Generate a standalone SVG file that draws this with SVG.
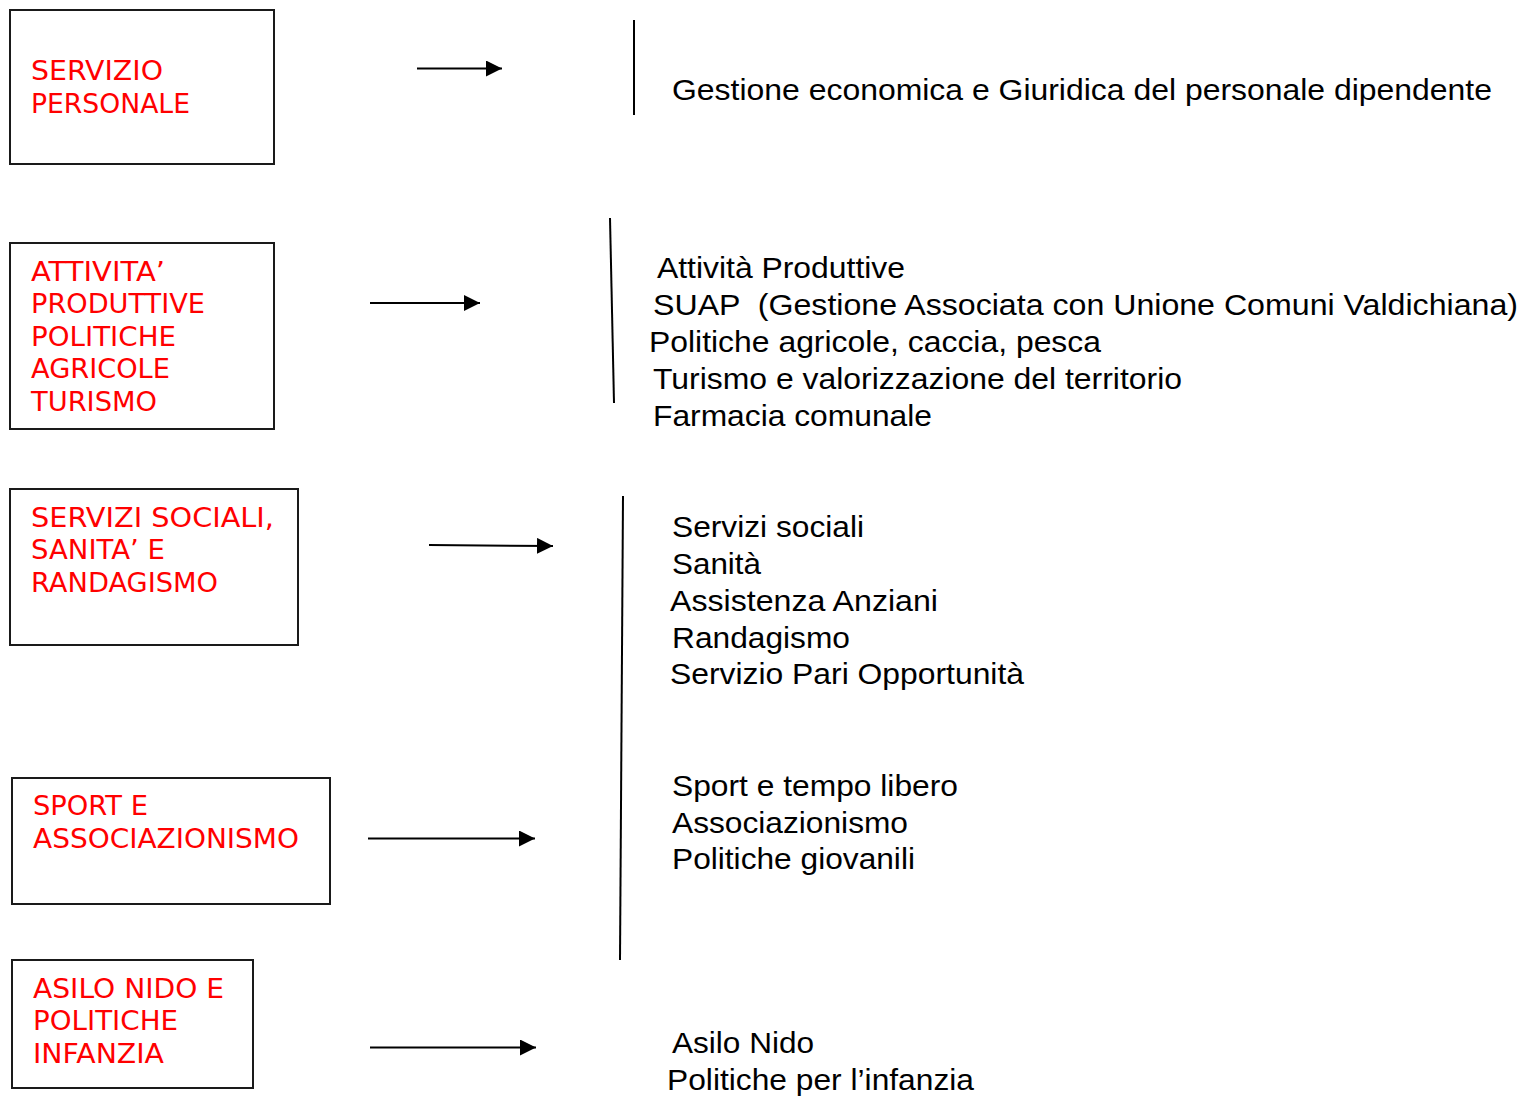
<svg xmlns="http://www.w3.org/2000/svg" width="1523" height="1098" viewBox="0 0 1523 1098">
<style>
.box{fill:#fff;stroke:#1a1a1a;stroke-width:2}
.r{font-family:"DejaVu Sans","Liberation Sans",sans-serif;font-size:27px;fill:#ff0000}
.b{font-family:"Liberation Sans",Arial,sans-serif;font-size:30px;fill:#000;white-space:pre}
.c{stroke:#000;stroke-width:2;fill:none}
</style>
<defs>
<marker id="ah" markerUnits="userSpaceOnUse" markerWidth="16" markerHeight="16" refX="16" refY="8" orient="auto">
<path d="M0,0 L16,8 L0,16 z" fill="#000"/>
</marker>
</defs>
<rect width="1523" height="1098" fill="#fff"/>
<g id="n-personale">
<rect class="box" x="10" y="10" width="264" height="154"/>
<text class="r" x="31" y="80" textLength="132" lengthAdjust="spacingAndGlyphs">SERVIZIO</text>
<text class="r" x="31" y="113" textLength="159" lengthAdjust="spacingAndGlyphs">PERSONALE</text>
</g>
<g id="n-attivita">
<rect class="box" x="10" y="243" width="264" height="186"/>
<text class="r" x="31" y="281" textLength="134" lengthAdjust="spacingAndGlyphs">ATTIVITA’</text>
<text class="r" x="31" y="313" textLength="174" lengthAdjust="spacingAndGlyphs">PRODUTTIVE</text>
<text class="r" x="31" y="346" textLength="145" lengthAdjust="spacingAndGlyphs">POLITICHE</text>
<text class="r" x="31" y="378" textLength="139" lengthAdjust="spacingAndGlyphs">AGRICOLE</text>
<text class="r" x="31" y="411" textLength="126" lengthAdjust="spacingAndGlyphs">TURISMO</text>
</g>
<g id="n-sociali">
<rect class="box" x="10" y="489" width="288" height="156"/>
<text class="r" x="31" y="527" textLength="243" lengthAdjust="spacingAndGlyphs">SERVIZI SOCIALI,</text>
<text class="r" x="31" y="559" textLength="134" lengthAdjust="spacingAndGlyphs">SANITA’ E</text>
<text class="r" x="31" y="592" textLength="187" lengthAdjust="spacingAndGlyphs">RANDAGISMO</text>
</g>
<g id="n-sport">
<rect class="box" x="12" y="778" width="318" height="126"/>
<text class="r" x="33" y="815" textLength="115" lengthAdjust="spacingAndGlyphs">SPORT E</text>
<text class="r" x="33" y="848" textLength="266" lengthAdjust="spacingAndGlyphs">ASSOCIAZIONISMO</text>
</g>
<g id="n-asilo">
<rect class="box" x="12" y="960" width="241" height="128"/>
<text class="r" x="33" y="998" textLength="191" lengthAdjust="spacingAndGlyphs">ASILO NIDO E</text>
<text class="r" x="33" y="1030" textLength="145" lengthAdjust="spacingAndGlyphs">POLITICHE</text>
<text class="r" x="33" y="1063" textLength="131" lengthAdjust="spacingAndGlyphs">INFANZIA</text>
</g>
<g id="d-personale">
<text class="b" x="672" y="100" textLength="820" lengthAdjust="spacingAndGlyphs">Gestione economica e Giuridica del personale dipendente</text>
</g>
<g id="d-attivita">
<text class="b" x="657" y="278" textLength="248" lengthAdjust="spacingAndGlyphs">Attività Produttive</text>
<text class="b" x="653" y="315" textLength="865" lengthAdjust="spacingAndGlyphs">SUAP  (Gestione Associata con Unione Comuni Valdichiana)</text>
<text class="b" x="649" y="352" textLength="452" lengthAdjust="spacingAndGlyphs">Politiche agricole, caccia, pesca</text>
<text class="b" x="653" y="389" textLength="529" lengthAdjust="spacingAndGlyphs">Turismo e valorizzazione del territorio</text>
<text class="b" x="653" y="426" textLength="279" lengthAdjust="spacingAndGlyphs">Farmacia comunale</text>
</g>
<g id="d-sociali">
<text class="b" x="672" y="537" textLength="192" lengthAdjust="spacingAndGlyphs">Servizi sociali</text>
<text class="b" x="672" y="574" textLength="89" lengthAdjust="spacingAndGlyphs">Sanità</text>
<text class="b" x="670" y="611" textLength="268" lengthAdjust="spacingAndGlyphs">Assistenza Anziani</text>
<text class="b" x="672" y="648" textLength="178" lengthAdjust="spacingAndGlyphs">Randagismo</text>
<text class="b" x="670" y="684" textLength="354" lengthAdjust="spacingAndGlyphs">Servizio Pari Opportunità</text>
</g>
<g id="d-sport">
<text class="b" x="672" y="796" textLength="286" lengthAdjust="spacingAndGlyphs">Sport e tempo libero</text>
<text class="b" x="672" y="833" textLength="236" lengthAdjust="spacingAndGlyphs">Associazionismo</text>
<text class="b" x="672" y="869" textLength="243" lengthAdjust="spacingAndGlyphs">Politiche giovanili</text>
</g>
<g id="d-asilo">
<text class="b" x="672" y="1053" textLength="142" lengthAdjust="spacingAndGlyphs">Asilo Nido</text>
<text class="b" x="667" y="1090" textLength="307" lengthAdjust="spacingAndGlyphs">Politiche per l’infanzia</text>
</g>
<g id="connectors">
<line class="c" x1="417" y1="68.5" x2="502" y2="68.5" marker-end="url(#ah)"/>
<line class="c" x1="370" y1="303" x2="480" y2="303" marker-end="url(#ah)"/>
<line class="c" x1="429" y1="545" x2="553" y2="546" marker-end="url(#ah)"/>
<line class="c" x1="368" y1="838.5" x2="535" y2="838.5" marker-end="url(#ah)"/>
<line class="c" x1="370" y1="1047.5" x2="536" y2="1047.5" marker-end="url(#ah)"/>
<line class="c" x1="634" y1="20" x2="634" y2="115"/>
<line class="c" x1="610" y1="218" x2="614" y2="403"/>
<line class="c" x1="623" y1="496" x2="620" y2="960"/>
</g>
</svg>
